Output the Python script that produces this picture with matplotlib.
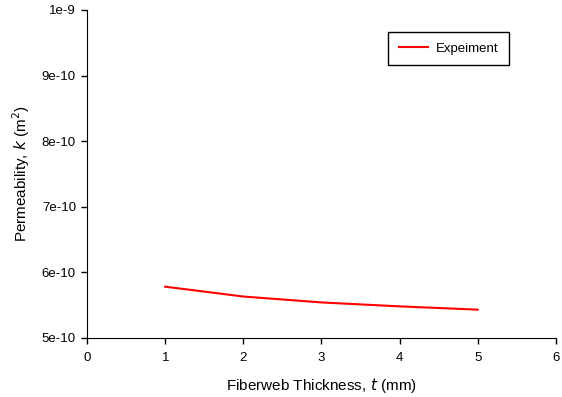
import matplotlib
matplotlib.use('Agg')
import matplotlib.pyplot as plt
import numpy as np

plt.rcParams['font.family'] = ['Liberation Sans', 'DejaVu Sans']

thickness = [1, 2, 3, 4, 5]
permeability = [5.78e-10, 5.63e-10, 5.54e-10, 5.48e-10, 5.43e-10]
yticks = [5e-10, 6e-10, 7e-10, 8e-10, 9e-10, 1e-9]
ytick_labels = ['5e-10', '6e-10', '7e-10', '8e-10', '9e-10', '1e-9']

fig = plt.figure(figsize=(5.62, 3.97), dpi=100)
ax = fig.add_axes([0.155, 0.149, 0.834, 0.826])

ax.plot(thickness, permeability, color='red', lw=1.5, label='Expeiment')

ax.set_xlim(0, 6)
ax.set_ylim(5e-10, 1e-9)
ax.set_xticks(range(0, 7))
ax.set_yticks(yticks)
ax.set_yticklabels(ytick_labels)
ax.tick_params(labelsize=9.5, length=4, width=1, direction='out')
ax.tick_params(axis='x', pad=6)
ax.tick_params(axis='y', pad=4)
ax.spines['top'].set_visible(False)
ax.spines['right'].set_visible(False)

ax.set_xlabel('Fiberweb Thickness, $\\it{t}$ (mm)', fontsize=11, labelpad=9)
ax.set_ylabel('Permeability, $\\it{k}$ (m$^2$)', fontsize=11, labelpad=7)

leg = ax.legend(loc='upper left', bbox_to_anchor=(0.642, 0.933), borderaxespad=0,
                fontsize=9.5, fancybox=False, framealpha=1, edgecolor='black',
                handlelength=2.2, handletextpad=0.6, borderpad=0.8)
leg.get_frame().set_linewidth(1)

fig.savefig('out.png', dpi=100)
